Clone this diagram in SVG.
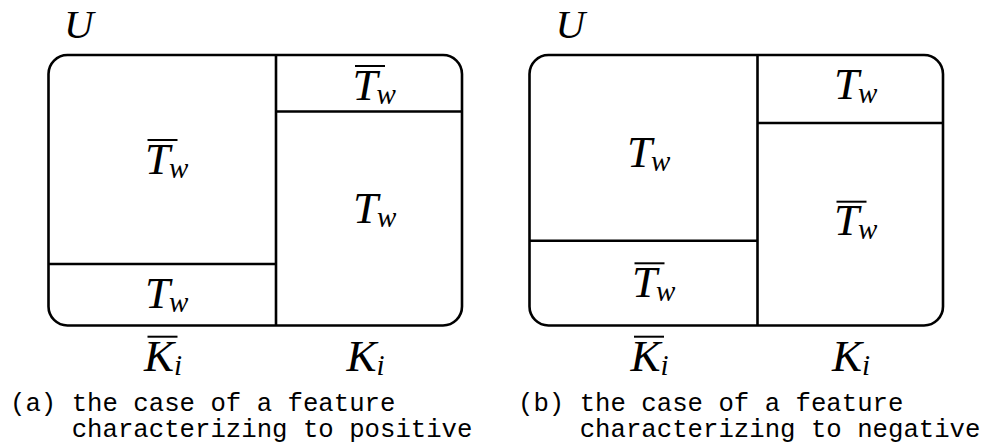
<svg xmlns="http://www.w3.org/2000/svg" width="983" height="445" viewBox="0 0 983 445">
<defs>
<style>
.box{fill:none;stroke:#000;stroke-width:2.6}
.div{stroke:#000;stroke-width:2.6;fill:none}
.bar{stroke:#000;stroke-width:2}
.m{font-family:'Liberation Serif','Times New Roman',serif;font-style:italic;font-size:45px;fill:#000}
.u{font-size:41px}
.s{font-size:29px}
.cap{font-family:'Liberation Mono','Courier New',monospace;font-size:25.7px;fill:#000}
</style>
</defs>
<rect width="983" height="445" fill="#fff"/>
<g id="panel-a">
  <text class="m u" x="64" y="38">U</text>
  <rect class="box" x="48.5" y="55" width="413.5" height="270.5" rx="19" ry="19"/>
  <line class="div" x1="276" y1="55" x2="276" y2="325.5"/>
  <line class="div" x1="276" y1="111.5" x2="462" y2="111.5"/>
  <line class="div" x1="48.5" y1="264" x2="276" y2="264"/>
  <g id="a-notT-left">
    <text class="m" x="145" y="174">T<tspan class="s" dx="-1" dy="4">w</tspan></text>
    <line class="bar" x1="147.5" y1="140" x2="177.5" y2="140"/>
  </g>
  <g id="a-T-left">
    <text class="m" x="145" y="308">T<tspan class="s" dx="-1" dy="4">w</tspan></text>
  </g>
  <g id="a-notT-right">
    <text class="m" x="352.5" y="100">T<tspan class="s" dx="-1" dy="4">w</tspan></text>
    <line class="bar" x1="355" y1="66" x2="385" y2="66"/>
  </g>
  <g id="a-T-right">
    <text class="m" x="353" y="223">T<tspan class="s" dx="-1" dy="4">w</tspan></text>
  </g>
  <g id="a-notK">
    <text class="m" x="144" y="370.7">K<tspan class="s" dy="4">i</tspan></text>
    <line class="bar" x1="147.5" y1="336.7" x2="177.5" y2="336.7"/>
  </g>
  <g id="a-K">
    <text class="m" x="346.5" y="370.7">K<tspan class="s" dy="4">i</tspan></text>
  </g>
  <text class="cap" xml:space="preserve" x="10" y="410.5">(a) the case of a feature</text>
  <text class="cap" xml:space="preserve" x="10" y="437">    characterizing to positive</text>
</g>
<g id="panel-b">
  <text class="m u" x="555.5" y="38">U</text>
  <rect class="box" x="529.5" y="55" width="413.5" height="270.5" rx="19" ry="19"/>
  <line class="div" x1="757.5" y1="55" x2="757.5" y2="325.5"/>
  <line class="div" x1="757.5" y1="123" x2="943" y2="123"/>
  <line class="div" x1="529.5" y1="240.7" x2="757.5" y2="240.7"/>
  <g id="b-T-left">
    <text class="m" x="627" y="166.7">T<tspan class="s" dx="-1" dy="4">w</tspan></text>
  </g>
  <g id="b-notT-left">
    <text class="m" x="632" y="296.7">T<tspan class="s" dx="-1" dy="4">w</tspan></text>
    <line class="bar" x1="634.5" y1="263.3" x2="664.5" y2="263.3"/>
  </g>
  <g id="b-T-right">
    <text class="m" x="834" y="99.3">T<tspan class="s" dx="-1" dy="4">w</tspan></text>
  </g>
  <g id="b-notT-right">
    <text class="m" x="834" y="235">T<tspan class="s" dx="-1" dy="4">w</tspan></text>
    <line class="bar" x1="836.5" y1="201.7" x2="866.5" y2="201.7"/>
  </g>
  <g id="b-notK">
    <text class="m" x="630.5" y="370.7">K<tspan class="s" dy="4">i</tspan></text>
    <line class="bar" x1="634" y1="336.7" x2="664" y2="336.7"/>
  </g>
  <g id="b-K">
    <text class="m" x="832" y="370.7">K<tspan class="s" dy="4">i</tspan></text>
  </g>
  <text class="cap" xml:space="preserve" x="518" y="410.5">(b) the case of a feature</text>
  <text class="cap" xml:space="preserve" x="518" y="437">    characterizing to negative</text>
</g>
</svg>
